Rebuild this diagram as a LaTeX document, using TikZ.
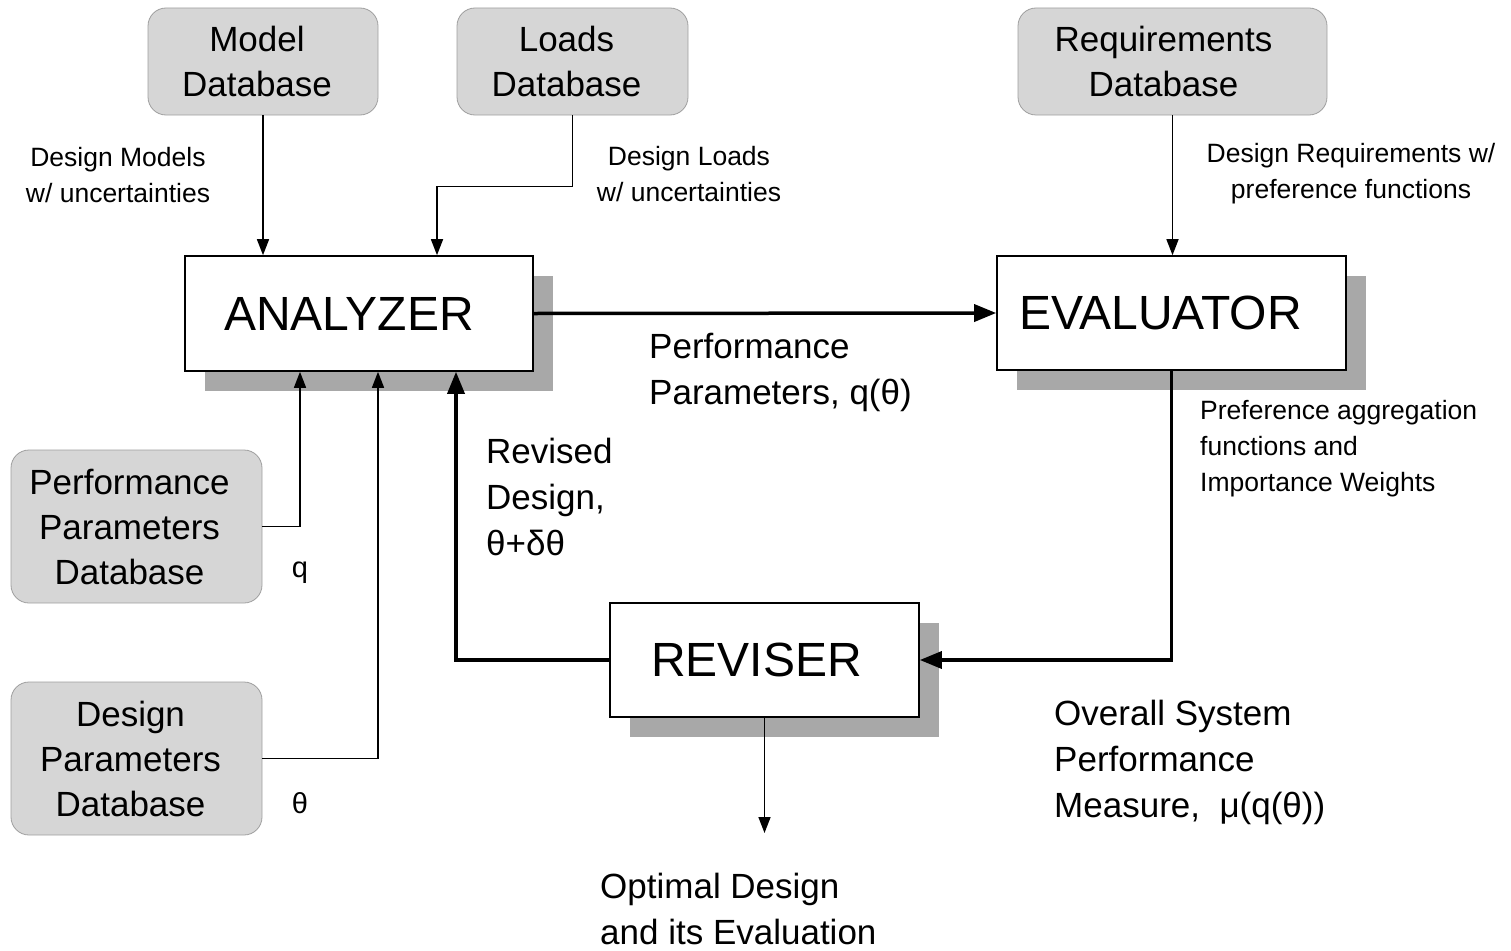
\documentclass[tikz,border=0pt]{standalone}
\usepackage{fontspec}
\setmainfont{Liberation Sans}
\usetikzlibrary{arrows.meta,shadows}
\definecolor{dbgray}{gray}{0.84}
\definecolor{shgray}{gray}{0.66}
\begin{document}
\begin{tikzpicture}[x=1pt,y=-1pt,
  db/.style={rounded corners=18pt, fill=dbgray, draw=gray!75, line width=0.8pt, inner sep=0pt},
  dbtext/.style={align=center, font=\fontsize{35}{45}\selectfont, inner sep=0pt},
  proc/.style={draw, line width=1.6pt, fill=white, inner sep=0pt,
    general shadow={fill=shgray, shadow xshift=20pt, shadow yshift=-20pt}},
  proctext/.style={font=\fontsize{48}{56}\selectfont, inner sep=0pt},
  lbl/.style={font=\fontsize{26.5}{36}\selectfont, align=center, inner sep=0pt},
  big/.style={font=\fontsize{35}{46}\selectfont, align=left, inner sep=0pt, anchor=west},
  thinarrow/.style={line width=1.5pt, -{Triangle[length=16pt,width=12pt]}},
  thickarrow/.style={line width=3.5pt, -{Triangle[length=22pt,width=17pt]}}
]
\useasboundingbox (0,0) rectangle (1511,950);

% databases
\node[db, minimum width=230pt, minimum height=107pt,
  label={[dbtext, xshift=-6pt]center:Model\\Database}] (mdb) at (263,61.5) {};
\node[db, minimum width=231pt, minimum height=107pt,
  label={[dbtext, xshift=-6pt]center:Loads\\Database}] (ldb) at (572.5,61.5) {};
\node[db, minimum width=309pt, minimum height=107pt,
  label={[dbtext, xshift=-9pt]center:Requirements\\Database}] (rdb) at (1172.5,61.5) {};
\node[db, minimum width=251pt, minimum height=153pt,
  label={[dbtext, xshift=-7pt]center:Performance\\Parameters\\Database}] (pdb) at (136.5,526.5) {};
\node[db, minimum width=251pt, minimum height=153pt,
  label={[dbtext, xshift=-6pt]center:Design\\Parameters\\Database}] (ddb) at (136.5,758.5) {};

% process boxes
\node[proc, minimum width=348pt, minimum height=115pt,
  label={[proctext, xshift=-10pt]center:ANALYZER}] (an) at (359,313.5) {};
\node[proc, minimum width=349pt, minimum height=114pt,
  label={[proctext, xshift=-11pt]center:EVALUATOR}] (ev) at (1171.5,313) {};
\node[proc, minimum width=309pt, minimum height=114pt,
  label={[proctext, xshift=-8pt]center:REVISER}] (rev) at (764.5,660) {};

\coordinate (outend) at (764.5,833);

% connectors
\draw[thinarrow] (mdb.south) -- (mdb.south |- an.north);
\draw[thinarrow] (ldb.south) -- ++(0,71) -| ([xshift=78pt]an.north);
\draw[thinarrow] (rdb.south) -- (rdb.south |- ev.north);
\draw[thickarrow] (an.east) -- (ev.west);
\draw[thickarrow] (ev.south) |- (rev.east);
\draw[thickarrow] (rev.west) -| ([xshift=97pt]an.south);
\draw[thinarrow] (rev.south) -- (outend);
\draw[thinarrow] (pdb.east) -| ([xshift=-59pt]an.south);
\draw[thinarrow] (ddb.east) -| ([xshift=19pt]an.south);

% labels
\node[lbl] (lmod) at (118,175) {Design Models\\w/ uncertainties};
\node[lbl] (lload) at (689,174) {Design Loads\\w/ uncertainties};
\node[lbl] (lreq) at (1351,174) {Design Requirements w/\\preference functions};
\node[big] (lperf) at (649,372) {Performance\\Parameters, q(θ)};
\node[big] (lrev) at (486,497) {Revised\\Design,\\θ+δθ};
\node[lbl, align=left, anchor=west] (lpref) at (1200,449) {Preference aggregation\\functions and\\Importance Weights};
\node[big] (lover) at (1054,762) {Overall System\\Performance\\Measure,~ μ(q(θ))};
\node[big] (lopt) at (600,908.5) {Optimal Design\\and its Evaluation};
\node[lbl, font=\fontsize{29}{36}\selectfont] (lq) at (300,573) {q};
\node[lbl, font=\fontsize{29}{36}\selectfont] (lth) at (300,803) {θ};
\end{tikzpicture}
\end{document}
